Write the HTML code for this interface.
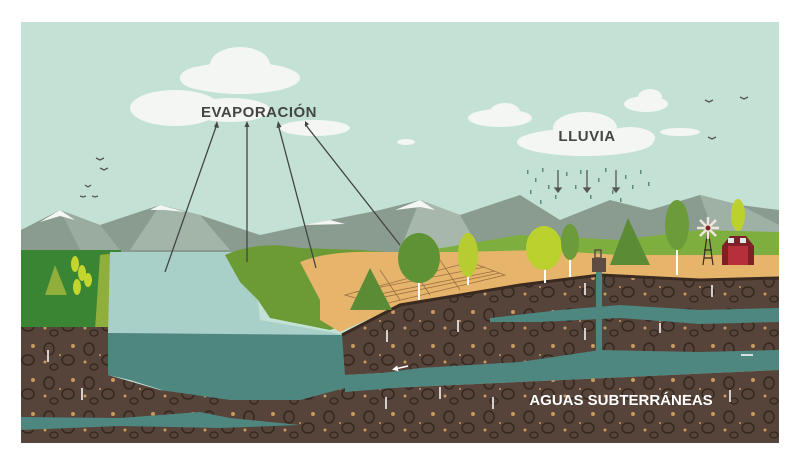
<!DOCTYPE html>
<html><head><meta charset="utf-8"><style>
html,body{margin:0;padding:0;background:#fff;}
svg{display:block;}
</style></head><body>
<svg width="800" height="465" viewBox="0 0 800 465" xmlns="http://www.w3.org/2000/svg">
<defs>
<clipPath id="c"><rect x="21" y="22" width="758" height="421"/></clipPath>
<pattern id="soil" width="40" height="34" patternUnits="userSpaceOnUse">
<rect width="40" height="34" fill="#56443a"/>
<ellipse cx="9" cy="9" rx="5" ry="6" fill="none" stroke="#34271f" stroke-width="1.5"/>
<ellipse cx="28" cy="20" rx="6" ry="5" fill="none" stroke="#34271f" stroke-width="1.5"/>
<ellipse cx="14" cy="27" rx="4" ry="3" fill="none" stroke="#34271f" stroke-width="1.3"/>
<circle cx="33" cy="6" r="2" fill="#c99a62"/>
<circle cx="20" cy="15" r="1" fill="#c99a62"/>
<circle cx="5" cy="22" r="1.5" fill="#c99a62"/>
</pattern>
<marker id="wa" viewBox="0 0 6 6" refX="3" refY="3" markerWidth="4" markerHeight="4" orient="auto"><path d="M0 0L6 3L0 6z" fill="#fff"/></marker>
</defs>
<g clip-path="url(#c)">
<rect x="21" y="22" width="758" height="421" fill="#c3e2d5"/>
<!-- clouds -->
<g fill="#f4f6f3">
<ellipse cx="240" cy="78" rx="60" ry="16"/><ellipse cx="240" cy="65" rx="30" ry="18"/><ellipse cx="205" cy="78" rx="25" ry="12"/>
<ellipse cx="175" cy="108" rx="45" ry="18"/><ellipse cx="230" cy="110" rx="40" ry="12"/>
<ellipse cx="315" cy="128" rx="35" ry="8"/>
<ellipse cx="500" cy="118" rx="32" ry="9"/><ellipse cx="505" cy="112" rx="15" ry="9"/>
<ellipse cx="585" cy="142" rx="68" ry="14"/><ellipse cx="585" cy="128" rx="32" ry="16"/><ellipse cx="630" cy="138" rx="25" ry="11"/>
<ellipse cx="646" cy="104" rx="22" ry="8"/><ellipse cx="650" cy="97" rx="12" ry="8"/>
<ellipse cx="680" cy="132" rx="20" ry="4"/>
<ellipse cx="406" cy="142" rx="9" ry="3"/>
</g>
<!-- birds -->
<g stroke="#555" stroke-width="1.3" fill="none">
<path d="M96 158l4 2 4-2M100 168l4 2 4-2M85 185l3 2 3-2M80 196l3 1 3-1M92 196l3 1 3-1M705 100l4 2 4-2M740 97l4 2 4-2M708 137l4 2 4-2"/>
</g>
<!-- mountains -->
<polygon points="21,230 60,210 100,225 160,205 200,215 260,235 330,220 380,210 420,200 460,215 520,195 560,220 610,200 650,210 700,195 740,205 779,210 779,290 21,290" fill="#8a9c90"/>
<polygon points="160,205 200,215 230,250 130,250" fill="#a3b4a9"/>
<polygon points="60,210 100,225 120,250 80,250" fill="#9aaca0"/>
<polygon points="420,200 460,215 480,250 400,250" fill="#a7b7ac"/>
<polygon points="700,195 740,205 779,225 779,260 720,250" fill="#9fb1a5"/>
<g fill="#f4f6f3">
<polygon points="40,222 60,210 75,220 60,216"/><polygon points="150,210 160,205 185,212 165,210"/><polygon points="305,225 330,220 345,224"/><polygon points="395,210 420,200 435,210 420,207"/>
</g>
<!-- right hills green -->
<polygon points="430,250 520,235 620,240 700,230 779,232 779,290 430,290" fill="#7eaf3e"/>
<!-- left meadow -->
<rect x="21" y="250" width="100" height="80" fill="#3a8533"/>
<polygon points="100,255 125,252 115,285 130,330 95,330" fill="#8fae3c"/>
<!-- lake light -->
<path d="M110 252 L250 252 L240 280 L258 300 L260 320 L330 332 L345 335 L108 335 Z" fill="#a8d0c8"/>
<!-- central green -->
<path d="M225 255 Q260 240 300 248 L360 250 L430 255 L420 300 L330 330 L270 318 L258 300 L240 282 Z" fill="#6c9b35"/>
<!-- tan ground -->
<path d="M300 262 Q330 250 380 252 L460 252 L540 250 L620 255 L779 255 L779 285 L600 275 L520 285 L400 305 L340 332 L320 320 L320 300 Z" fill="#e6b46a"/>
<!-- field grid -->
<g stroke="#9a7044" stroke-width="0.8" fill="none">
<path d="M345 295 L470 262 L505 275 L380 305 Z M355 292 L485 267 M365 297 L495 271 M370 300 L500 273 M380 270 L400 300 M410 265 L430 295 M440 260 L460 290"/>
</g>
<!-- deep water -->
<path d="M108 333 L345 335 L345 375 L779 352 L779 370 L345 390 L300 400 L200 402 L130 380 L108 375 Z" fill="#4e8680"/>
<!-- soils -->
<path d="M21 327 L108 327 L108 375 L160 390 L230 400 L300 400 L345 388 L345 443 L21 443 Z" fill="url(#soil)"/>
<path d="M342 335 L400 305 L520 285 L600 275 L700 280 L779 278 L779 352 L345 375 Z" fill="url(#soil)"/>
<path d="M345 390 L779 370 L779 443 L345 443 Z" fill="url(#soil)"/>
<path d="M342 335 L400 305 L520 285 L600 275 L700 280 L779 278" stroke="#3a2a20" stroke-width="3" fill="none"/>
<!-- aquifer bands -->
<path d="M490 318 L560 310 L620 305 L700 310 L779 308 L779 322 L700 324 L620 318 L540 322 L490 322 Z" fill="#4e8680"/>
<path d="M345 378 L420 368 L520 362 L600 350 L700 352 L779 350 L779 367 L700 370 L600 372 L520 375 L430 385 L345 392 Z" fill="#4e8680"/>
<path d="M21 417 L120 418 L200 412 L230 418 L300 425 L220 428 L120 426 L21 430 Z" fill="#4e8680"/>
<rect x="596" y="268" width="6" height="92" fill="#4e8680"/>
<!-- well -->
<rect x="592" y="258" width="14" height="14" fill="#5e4c40"/>
<rect x="595" y="250" width="6" height="8" fill="none" stroke="#5e4c40" stroke-width="1.5"/>
<!-- trees -->
<g>
<rect x="418" y="260" width="2" height="40" fill="#fff"/><ellipse cx="419" cy="258" rx="21" ry="25" fill="#5f9234"/>
<rect x="467" y="255" width="2" height="30" fill="#fff"/><ellipse cx="468" cy="255" rx="10" ry="22" fill="#b7cc30"/>
<rect x="544" y="255" width="2" height="28" fill="#fff"/><ellipse cx="544" cy="248" rx="18" ry="22" fill="#bad12e"/>
<rect x="569" y="255" width="2" height="22" fill="#fff"/><ellipse cx="570" cy="242" rx="9" ry="18" fill="#6c9b3a"/>
<polygon points="628,218 610,265 650,265" fill="#5b8c35"/>
<rect x="676" y="240" width="2" height="35" fill="#fff"/><ellipse cx="677" cy="225" rx="12" ry="25" fill="#6c9b3a"/>
<ellipse cx="738" cy="215" rx="7" ry="16" fill="#bcd12e"/>
<polygon points="370,268 350,310 392,310" fill="#5b8c35"/>
<polygon points="55,265 45,295 67,295" fill="#8fae3c"/>
<g fill="#c4d52e"><ellipse cx="75" cy="264" rx="4" ry="8"/><ellipse cx="82" cy="273" rx="4" ry="8"/><ellipse cx="88" cy="280" rx="4" ry="7"/><ellipse cx="77" cy="287" rx="4" ry="8"/></g>
</g>
<!-- windmill & barn -->
<g stroke="#3a2a20" stroke-width="1.2" fill="none"><path d="M708 228 L703 265 M708 228 L713 265 M704 250 L712 250 M704 258 L712 258"/></g>
<g stroke="#f1e6dd" stroke-width="2.5"><path d="M697 228h22M708 217v22M700 220l16 16M716 220l-16 16"/></g>
<circle cx="708" cy="228" r="2.5" fill="#7a2a25"/>
<polygon points="722,246 730,236 746,236 754,246 754,265 722,265" fill="#7e2028"/>
<rect x="728" y="246" width="20" height="19" fill="#b5303a"/>
<rect x="728" y="238" width="6" height="5" fill="#dfe9e5"/><rect x="740" y="238" width="6" height="5" fill="#dfe9e5"/>
<!-- rain -->
<g fill="#5d8a7f">
<rect x="527" y="170" width="1.5" height="4"/><rect x="535" y="178" width="1.5" height="4"/><rect x="542" y="168" width="1.5" height="4"/><rect x="530" y="190" width="1.5" height="4"/><rect x="548" y="185" width="1.5" height="4"/><rect x="566" y="172" width="1.5" height="4"/><rect x="575" y="185" width="1.5" height="4"/><rect x="580" y="170" width="1.5" height="4"/><rect x="598" y="178" width="1.5" height="4"/><rect x="605" y="168" width="1.5" height="4"/><rect x="612" y="190" width="1.5" height="4"/><rect x="625" y="175" width="1.5" height="4"/><rect x="632" y="185" width="1.5" height="4"/><rect x="640" y="170" width="1.5" height="4"/><rect x="648" y="182" width="1.5" height="4"/><rect x="555" y="195" width="1.5" height="4"/><rect x="590" y="195" width="1.5" height="4"/><rect x="620" y="198" width="1.5" height="4"/><rect x="540" y="200" width="1.5" height="4"/>
</g>
<g stroke="#555" stroke-width="1.3" fill="#555">
<path d="M558 170v20M587 170v20M616 170v20" fill="none"/>
<path d="M555 188l3 4 3-4zM584 188l3 4 3-4zM613 188l3 4 3-4z"/>
</g>
<!-- evaporation lines -->
<g stroke="#454545" stroke-width="1.3" fill="none">
<path d="M165 272 L217 124M247 262 L247 124M316 268 L278 124M400 245 L305 124"/>
</g>
<g fill="#454545"><path d="M217 121l-3 6 5 1zM247 121l-2.5 6h5zM278 121l-1.5 7 5-1zM305 121l0 6 4-3z"/></g>
<!-- white arrows -->
<g stroke="#fff" stroke-width="1.5" fill="none" marker-end="url(#wa)">
<path d="M48 350v12M82 388v12M387 330v12M458 320v12M386 397v12M440 387v12M493 397v12M730 390v12M712 285v12M660 323v10M585 295v-12M585 340v-12M753 355h-12M408 366l-13 3"/>
</g>
<!-- labels -->
<text x="259" y="117" text-anchor="middle" font-family="Liberation Sans, sans-serif" font-weight="bold" font-size="15" fill="#454545" letter-spacing="0.5">EVAPORACIÓN</text>
<text x="587" y="141" text-anchor="middle" font-family="Liberation Sans, sans-serif" font-weight="bold" font-size="15" fill="#454545" letter-spacing="0.5">LLUVIA</text>
<text x="621" y="405" text-anchor="middle" font-family="Liberation Sans, sans-serif" font-weight="bold" font-size="15" fill="#fff">AGUAS SUBTERRÁNEAS</text>
</g>
</svg>
</body></html>
